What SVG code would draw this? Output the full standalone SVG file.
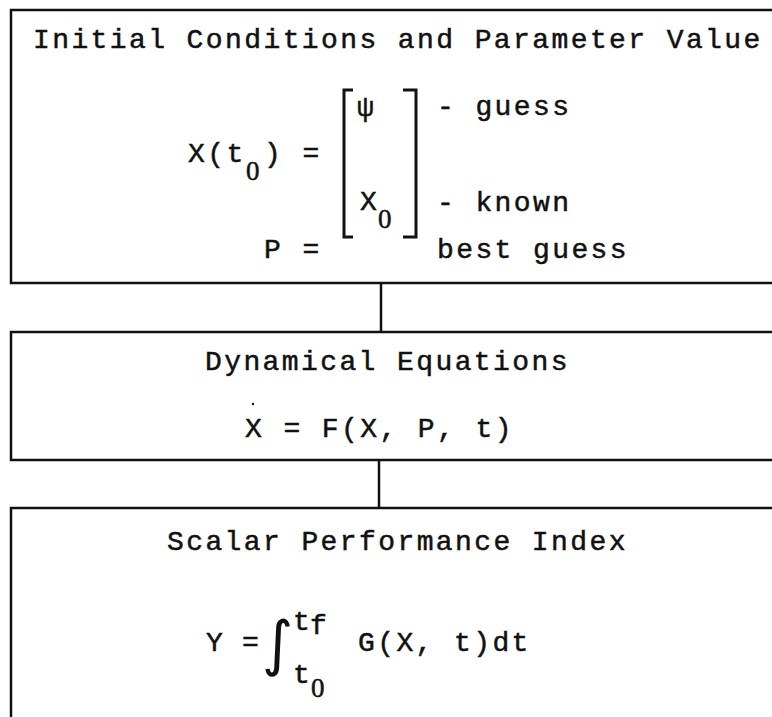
<svg xmlns="http://www.w3.org/2000/svg" width="772" height="717" viewBox="0 0 772 717">
<style>
  .t { font-family: "Liberation Mono", "DejaVu Sans Mono", monospace; font-size: 28px; letter-spacing: 2.4px; fill: #111; stroke: #111; stroke-width: 0.5; }
  .n { letter-spacing: 0; }
  .z { font-family: "Liberation Serif", serif; font-size: 27px; fill: #111; stroke: #111; stroke-width: 0.5; }
  .box { fill: none; stroke: #111; stroke-width: 2.5; }
  .edge { stroke: #111; stroke-width: 2.5; fill: none; }
  .br { stroke: #111; stroke-width: 3; fill: none; }
</style>
<rect width="772" height="717" fill="#fff"/>
<g id="node-initial">
  <path class="box" d="M780 10 H11 V283 H780"/>
  <text class="t" x="33" y="48">Initial Conditions and Parameter Value</text>
  <text class="t" x="188" y="162">X(t</text>
  <text class="z" x="246" y="180">0</text>
  <text class="t" x="264" y="162">) =</text>
  <path class="br" d="M353 90 H344 V237 H353"/>
  <path class="br" d="M403 90 H416 V237 H403"/>
  <text class="t" x="357" y="116">ψ</text>
  <text class="t" x="360" y="210">X</text>
  <text class="z" x="378" y="228">0</text>
  <text class="t" x="437" y="115">- guess</text>
  <text class="t" x="437" y="211">- known</text>
  <text class="t" x="264" y="258">P =</text>
  <text class="t" x="437" y="258">best guess</text>
</g>
<g id="node-dynamics">
  <path class="box" d="M780 332 H11 V460 H780"/>
  <text class="t" x="205" y="370">Dynamical Equations</text>
  <circle cx="253" cy="404" r="1.2" fill="#111"/>
  <text class="t" x="245" y="437">X = F(X, P, t)</text>
</g>
<g id="node-performance">
  <path class="box" d="M780 508 H11 V720"/>
  <text class="t" x="167" y="550">Scalar Performance Index</text>
  <text class="t n" x="206" y="651">Y</text>
  <text class="t n" x="242" y="651">=</text>
  <text x="262" y="664" style="font-family:'DejaVu Sans',sans-serif;font-size:60px;fill:#111">∫</text>
  <text class="t" x="293" y="630">t</text>
  <text class="t" x="310" y="634">f</text>
  <text class="t" x="293" y="683">t</text>
  <text class="z" x="311" y="697">0</text>
  <text class="t" x="358" y="651">G(X, t)dt</text>
</g>
<g id="connectors">
  <line class="edge" x1="381" y1="283" x2="381" y2="332"/>
  <line class="edge" x1="379" y1="460" x2="379" y2="508"/>
</g>
</svg>
